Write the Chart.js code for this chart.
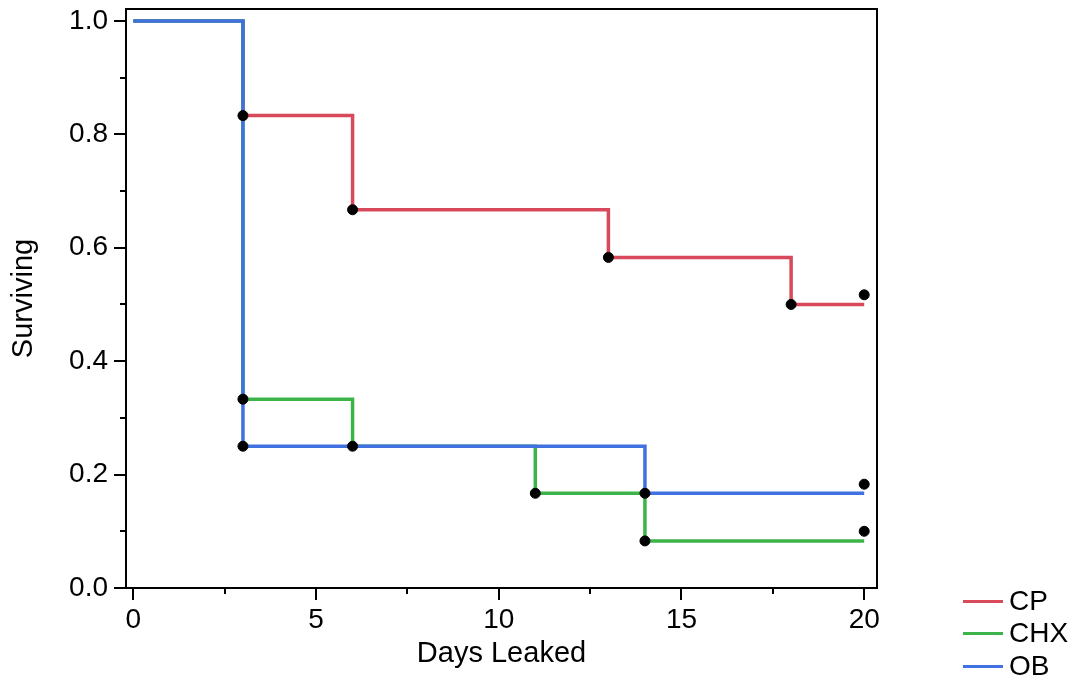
<!DOCTYPE html>
<html>
<head>
<meta charset="utf-8">
<script src="https://cdn.jsdelivr.net/npm/chart.js@4"></script>
<style>
  html, body { margin: 0; padding: 0; background: #fff; }
  #wrap { position: relative; width: 1078px; height: 681px; }
  .lg-row { position: absolute; left: 963px; height: 32px; display: flex; align-items: center;
            font: 28px "Liberation Sans", Arial, sans-serif; color: #000; }
  .lg-line { width: 40px; height: 3px; margin-right: 6px; }
</style>
</head>
<body>
<div id="wrap">
  <canvas id="chart"></canvas>
  <div id="legend"></div>
</div>
<script>
// ── Data ─────────────────────────────────────────────────────────────────────
const groups = ['CP', 'CHX', 'OB'];
const groupColors = ['#d84a5b', '#3cb44a', '#4171e0'];

// survival step curves (days, surviving fraction)
const cpDays   = [0, 3, 6, 13, 18, 20];
const cpSurv   = [1, 0.833, 0.667, 0.583, 0.5, 0.5];
const chxDays  = [0, 3, 6, 11, 14, 20];
const chxSurv  = [1, 0.333, 0.25, 0.167, 0.083, 0.083];
const obDays   = [0, 3, 14, 20];
const obSurv   = [1, 0.25, 0.167, 0.167];

// black markers
const markDays = [3, 6, 13, 18, 20,   3, 6, 11, 14, 20,   3, 14, 20];
const markSurv = [0.833, 0.667, 0.583, 0.5, 0.517,   0.333, 0.25, 0.167, 0.083, 0.1,   0.25, 0.167, 0.183];

const xTicks = [0, 2.5, 5, 7.5, 10, 12.5, 15, 17.5, 20];
const xLabels = [0, 5, 10, 15, 20];
const yTicks = [0, 0.1, 0.2, 0.3, 0.4, 0.5, 0.6, 0.7, 0.8, 0.9, 1.0];
const yLabels = [0, 0.2, 0.4, 0.6, 0.8, 1.0];

// ── Helpers ──────────────────────────────────────────────────────────────────
const FONT = '"Liberation Sans", Arial, sans-serif';
const pts = (xs, ys) => xs.map((x, i) => ({ x, y: ys[i] }));
const near = (v, list) => list.some(l => Math.abs(l - v) < 1e-6);

const lineSet = (i, xs, ys, order) => ({
    label:       groups[i],
    data:        pts(xs, ys),
    borderColor: groupColors[i],
    borderWidth: 3.5,
    stepped:     true,
    pointRadius: 0,
    fill:        false,
    order
});

// frame + tick marks (major long, minor short)
const framePlugin = {
    id: 'frame',
    afterDraw(chart) {
        const { ctx, chartArea: a, scales: { x, y } } = chart;
        ctx.save();
        ctx.strokeStyle = '#000';
        ctx.lineWidth = 2;
        ctx.strokeRect(a.left, a.top, a.right - a.left, a.bottom - a.top);
        ctx.beginPath();
        x.ticks.forEach(t => {
            const px = Math.round(x.getPixelForValue(t.value));
            const len = near(t.value, xLabels) ? 12 : 6;
            ctx.moveTo(px, a.bottom); ctx.lineTo(px, a.bottom + len);
        });
        y.ticks.forEach(t => {
            const py = Math.round(y.getPixelForValue(t.value));
            const len = near(t.value, yLabels) ? 12 : 6;
            ctx.moveTo(a.left, py); ctx.lineTo(a.left - len, py);
        });
        ctx.stroke();
        ctx.restore();
    }
};

// ── Chart ────────────────────────────────────────────────────────────────────
new Chart(document.getElementById('chart'), {
    type: 'line',
    data: {
        datasets: [
            {
                label:           'marks',
                type:            'scatter',
                data:            pts(markDays, markSurv),
                backgroundColor: '#000',
                borderColor:     '#000',
                pointRadius:     5,
                showLine:        false,
                order:           0
            },
            lineSet(0, cpDays, cpSurv, 3),
            lineSet(1, chxDays, chxSurv, 2),
            lineSet(2, obDays, obSurv, 1)
        ]
    },
    options: {
        responsive:          true,
        maintainAspectRatio: false,
        animation:           false,
        layout: { padding: { top: 9, right: 201, left: 0, bottom: 0 } },
        scales: {
            x: {
                type: 'linear',
                min:  -0.2,
                max:  20.35,
                afterFit(s) { s.height = 93; s.paddingLeft = 0; s.paddingRight = 0; },
                afterBuildTicks(s) { s.ticks = xTicks.map(v => ({ value: v })); },
                ticks: {
                    color: '#000',
                    font: { family: FONT, size: 28 },
                    padding: 15,
                    maxRotation: 0,
                    autoSkip: false,
                    callback: v => near(v, xLabels) ? String(v) : ''
                },
                grid:   { drawOnChartArea: false, drawTicks: false },
                border: { display: false },
                title: {
                    display: true,
                    text:    'Days Leaked',
                    color:   '#000',
                    font:    { family: FONT, size: 29 },
                    padding: { top: 0, bottom: 10 }
                }
            },
            y: {
                min: 0,
                max: 1.021,
                afterFit(s) { s.width = 126; s.paddingTop = 0; s.paddingBottom = 0; },
                afterBuildTicks(s) { s.ticks = yTicks.map(v => ({ value: v })); },
                ticks: {
                    color: '#000',
                    font: { family: FONT, size: 28 },
                    padding: 18,
                    autoSkip: false,
                    callback: v => near(v, yLabels) ? v.toFixed(1) : ''
                },
                grid:   { drawOnChartArea: false, drawTicks: false },
                border: { display: false },
                title: {
                    display: true,
                    text:    'Surviving',
                    color:   '#000',
                    font:    { family: FONT, size: 29 },
                    padding: { top: 7, bottom: 0 }
                }
            }
        },
        plugins: {
            legend:  { display: false },
            tooltip: { enabled: false }
        }
    },
    plugins: [framePlugin]
});

// ── Legend (outside the plot, bottom right) ─────────────────────────────────
const legendTops = [585, 617, 650];
document.getElementById('legend').innerHTML = groups.map((g, i) =>
    `<div class="lg-row" style="top:${legendTops[i]}px">` +
    `<span class="lg-line" style="background:${groupColors[i]}"></span>${g}</div>`
).join('');
</script>
</body>
</html>
